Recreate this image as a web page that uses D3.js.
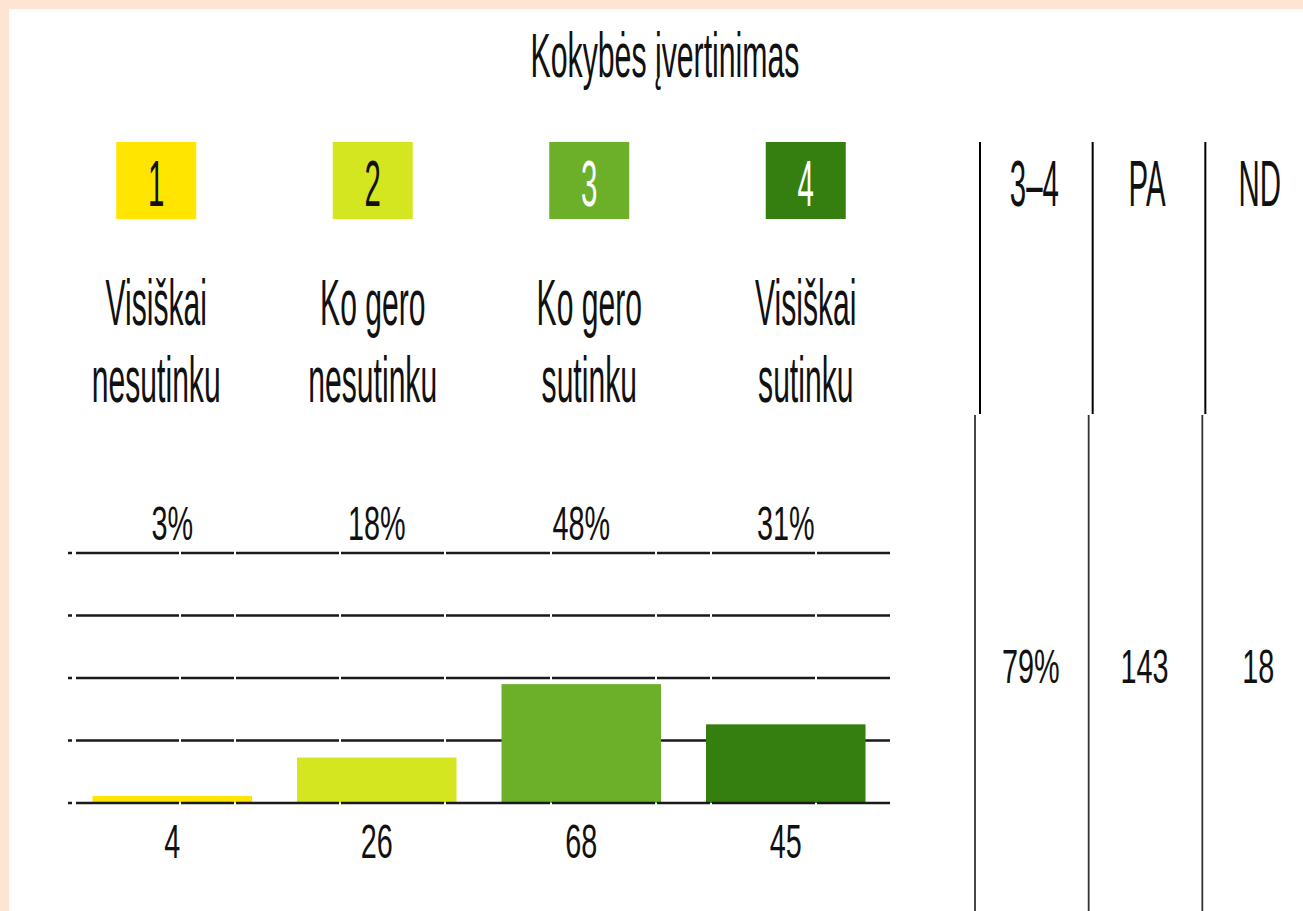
<!DOCTYPE html>
<html>
<head>
<meta charset="utf-8">
<script src="https://cdn.jsdelivr.net/npm/d3@7"></script>
<style>
  body { margin: 0; background: #fde4d3; }
  svg { display: block; }
  text { font-family: "Liberation Sans", Arial, sans-serif; fill: #111; }
</style>
</head>
<body>
<script>
// data
const title = 'Kokybės įvertinimas';
const scores = ['1', '2', '3', '4'];
const scoreLabels = [
    ['Visiškai', 'nesutinku'],
    ['Ko gero', 'nesutinku'],
    ['Ko gero', 'sutinku'],
    ['Visiškai', 'sutinku']
];
const counts = [4, 26, 68, 45];
const percents = ['3%', '18%', '48%', '31%'];
const colors = ['#ffe500', '#d3e61f', '#6cb02a', '#347f10'];
const numColors = ['#111', '#111', '#fff', '#fff'];
const gridTicks = [0, 25, 50, 75, 100];
const summaryHeads = ['3–4', 'PA', 'ND'];
const summaryValues = ['79%', '143', '18'];
const total = 143;

const W = 1303, H = 911;

const svg = d3.select('body').append('svg')
    .attr('width', W)
    .attr('height', H);

svg.append('rect')
    .attr('width', W).attr('height', H)
    .attr('fill', '#fde4d3');
svg.append('rect')
    .attr('x', 9).attr('y', 9)
    .attr('width', W - 9).attr('height', H - 9)
    .attr('fill', '#fff');

// squeezed text helper (the picture's font is tall and narrow)
function label(g, x, y, txt, size, sx, fill) {
    return g.append('text')
        .attr('transform', `translate(${x},${y}) scale(${sx},1)`)
        .attr('text-anchor', 'middle')
        .style('font-size', size + 'px')
        .style('fill', fill || '#111')
        .text(txt);
}

label(svg, 665, 77, title, 63, 0.48);

// header: coloured score boxes + labels
const hx = d3.scaleBand()
    .domain(scores)
    .range([48, 914]);
const boxW = 80, boxTop = 142, boxH = 77;

scores.forEach((s, i) => {
    const cx = hx(s) + hx.bandwidth() / 2;
    svg.append('rect')
        .attr('x', cx - boxW / 2)
        .attr('y', boxTop)
        .attr('width', boxW)
        .attr('height', boxH)
        .attr('fill', colors[i]);
    label(svg, cx, 206, s, 64, 0.46, numColors[i]);
    label(svg, cx, 325, scoreLabels[i][0], 64, 0.47);
    label(svg, cx, 402, scoreLabels[i][1], 64, 0.47);
});

// bar chart
const x = d3.scaleBand()
    .domain(scores)
    .range([70, 888])
    .paddingInner(0.22)
    .paddingOuter(0.11);

const y = d3.scaleLinear()
    .domain([0, 100])
    .range([803, 553]);

const dash = '4,4,103,2,53,2,103,2,103,2,104,2,103,2,53,2,103,2,75';

svg.selectAll('.grid')
    .data(gridTicks.filter(t => t > 0))
    .enter().append('line')
    .attr('class', 'grid')
    .attr('x1', 68).attr('x2', 890)
    .attr('y1', d => y(d)).attr('y2', d => y(d))
    .attr('stroke', '#1a1a1a')
    .attr('stroke-width', 2.6)
    .attr('stroke-dasharray', dash);

svg.selectAll('.bar')
    .data(counts)
    .enter().append('rect')
    .attr('class', 'bar')
    .attr('x', (d, i) => x(scores[i]))
    .attr('width', x.bandwidth())
    .attr('y', d => y(d / total * 100))
    .attr('height', d => y(0) - y(d / total * 100))
    .attr('fill', (d, i) => colors[i]);

svg.append('line')
    .attr('x1', 68).attr('x2', 890)
    .attr('y1', y(0)).attr('y2', y(0))
    .attr('stroke', '#1a1a1a')
    .attr('stroke-width', 2.6)
    .attr('stroke-dasharray', dash);

scores.forEach((s, i) => {
    const cx = x(s) + x.bandwidth() / 2;
    label(svg, cx, 540, percents[i], 48, 0.6);
    label(svg, cx, 858, counts[i], 48, 0.6);
});

// summary table on the right
const tTop = d3.scaleBand().domain(summaryHeads).range([980, 1318]);
const tBot = d3.scaleBand().domain(summaryHeads).range([975, 1316]);

summaryHeads.forEach((h, i) => {
    svg.append('line')
        .attr('x1', tTop(h)).attr('x2', tTop(h))
        .attr('y1', 142).attr('y2', 414)
        .attr('stroke', '#000')
        .attr('stroke-width', 2);
    svg.append('line')
        .attr('x1', tBot(h)).attr('x2', tBot(h))
        .attr('y1', 415).attr('y2', H)
        .attr('stroke', '#333')
        .attr('stroke-width', 1.8);
    label(svg, tTop(h) + tTop.bandwidth() / 2 - 2, 206, h, 64, 0.46);
    label(svg, tBot(h) + tBot.bandwidth() / 2 - 1, 683, summaryValues[i], 48, 0.6);
});
</script>
</body>
</html>
